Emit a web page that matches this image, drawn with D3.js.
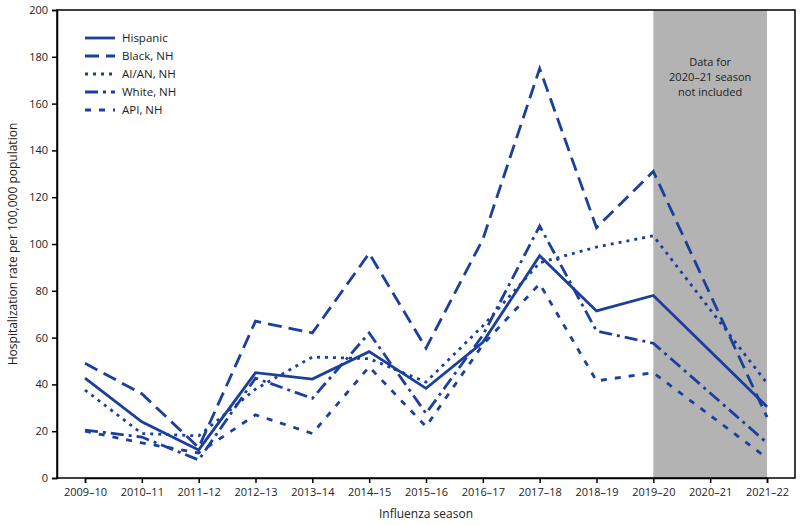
<!DOCTYPE html>
<html><head><meta charset="utf-8">
<script src="https://cdn.jsdelivr.net/npm/d3@7"></script>
<style>body{margin:0;background:#fff;} text{font-family:"Open Sans","Noto Sans",sans-serif;}</style>
</head><body><svg id="c" width="800" height="525"></svg>
<script>
const seasons = ["2009–10","2010–11","2011–12","2012–13","2013–14","2014–15","2015–16","2016–17","2017–18","2018–19","2019–20","2020–21","2021–22"];
const dataSeasons = ["2009–10","2010–11","2011–12","2012–13","2013–14","2014–15","2015–16","2016–17","2017–18","2018–19","2019–20","2021–22"];
const hispanic = [42.7,24,12,45,42.3,54,38.3,58,95,71.4,78,30.5];
const black    = [49,36,13,67,62,96,55.5,102,175,107,131,26];
const aian     = [37.6,19,18,38,51.7,51,41,65,92,98.7,103.5,40.5];
const white    = [20.5,17.5,7.7,42.7,34,62,27.6,61,107.7,62.8,57.6,15];
const api      = [20,15,10.7,27,19,47.5,22,57,83,41.5,45,8.5];
const seriesNames = ["Hispanic","Black, NH","AI/AN, NH","White, NH","API, NH"];
const yTicks = [0,20,40,60,80,100,120,140,160,180,200];

const dashes = [null,"14,7","3,5","13,5,3,5","6,8"];
const caps = ["butt","butt","butt","butt","butt"];
const series = [hispanic,black,aian,white,api];
const color = "#1b3f9d";

const svg = d3.select("#c");
const L=57, R=795, T=10, B=478;
const x = d3.scalePoint().domain(seasons).range([85,767]);
const y = d3.scaleLinear().domain([0,200]).range([B,T]);

// gray band
svg.append("rect").attr("x",x("2019–20")).attr("y",T).attr("width",x("2021–22")-x("2019–20")).attr("height",B-T).attr("fill","#b3b3b3");
const nt = svg.append("text").attr("text-anchor","middle").attr("font-size",11).attr("fill","#222");
["Data for","2020–21 season","not included"].forEach((t,i)=>nt.append("tspan").attr("x",(x("2019–20")+x("2021–22"))/2).attr("y",66+i*15).text(t));

// frame
svg.append("rect").attr("x",L).attr("y",T).attr("width",R-L).attr("height",B-T).attr("fill","none").attr("stroke","#000").attr("stroke-width",1.5);

// axes
const ya = svg.append("g").attr("transform",`translate(${L},0)`).call(d3.axisLeft(y).tickValues(yTicks).tickSize(5).tickPadding(4));
const xa = svg.append("g").attr("transform",`translate(0,${B})`).call(d3.axisBottom(x).tickSize(5).tickPadding(5));
[ya,xa].forEach(a=>{a.select(".domain").attr("stroke","#000").attr("stroke-width",1.5);a.selectAll(".tick line").attr("stroke","#000").attr("stroke-width",1.5);a.selectAll("text").attr("font-size",11).attr("fill","#222").attr("font-family","'Open Sans',sans-serif");});

svg.append("text").attr("x",(L+R)/2).attr("y",518).attr("text-anchor","middle").attr("font-size",12).attr("fill","#222").text("Influenza season");
svg.append("text").attr("transform",`translate(17,${(T+B)/2}) rotate(-90)`).attr("text-anchor","middle").attr("font-size",12).attr("fill","#222").text("Hospitalization rate per 100,000 population");

const line = d3.line().x((d,i)=>x(dataSeasons[i])).y(d=>y(d));
series.forEach((s,k)=>{
  svg.append("path").datum(s).attr("d",line).attr("fill","none").attr("stroke",color).attr("stroke-width",2.8)
    .attr("stroke-dasharray",dashes[k]).attr("stroke-linejoin","miter");
});

// legend
seriesNames.forEach((n,k)=>{
  const yy = 38+k*18;
  svg.append("line").attr("x1",85).attr("x2",115).attr("y1",yy).attr("y2",yy).attr("stroke",color).attr("stroke-width",2.8).attr("stroke-dasharray",dashes[k]);
  svg.append("text").attr("x",122).attr("y",yy+4).attr("font-size",11.5).attr("fill","#222").text(n);
});
</script></body></html>
